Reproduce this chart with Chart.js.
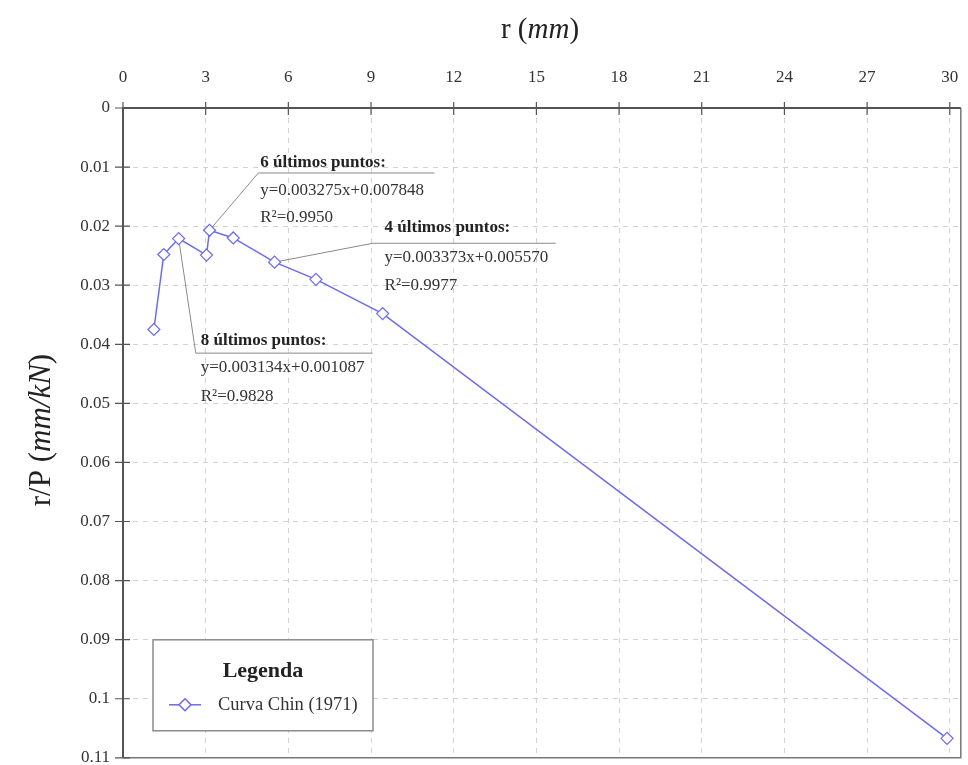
<!DOCTYPE html>
<html>
<head>
<meta charset="utf-8">
<script src="https://cdn.jsdelivr.net/npm/chart.js@4.4.1/dist/chart.umd.min.js"></script>
<style>
  html, body { margin: 0; padding: 0; background: #fff; }
  #wrap { width: 968px; height: 765px; position: relative; }
</style>
</head>
<body>
<div id="wrap"><canvas id="chin"></canvas></div>
<script>
// Curva de Chin: r/P contra r, eje vertical invertido y eje r arriba.

const rValues  = [1.12, 1.48, 2.02, 3.03, 3.14, 4.0, 5.5, 7.0, 9.42, 29.9];
const rpValues = [0.0375, 0.0248, 0.0221, 0.0249, 0.0207, 0.0220, 0.0261, 0.0290, 0.0348, 0.1067];

const xTicks = [0, 3, 6, 9, 12, 15, 18, 21, 24, 27, 30];
const yTicks = [0, 0.01, 0.02, 0.03, 0.04, 0.05, 0.06, 0.07, 0.08, 0.09, 0.1, 0.11];
const yTickLabels = ["0", "0.01", "0.02", "0.03", "0.04", "0.05", "0.06", "0.07", "0.08", "0.09", "0.1", "0.11"];

const seriesLabel = "Curva Chin (1971)";
const legendTitle = "Legenda";

const fitTitles = ["6 últimos puntos:", "4 últimos puntos:", "8 últimos puntos:"];
const fitEquations = ["y=0.003275x+0.007848", "y=0.003373x+0.005570", "y=0.003134x+0.001087"];
const fitR2 = ["R²=0.9950", "R²=0.9977", "R²=0.9828"];

// where each note sits, in data units (r, r/P): point it hangs from, elbow, end of underline
const noteLayout = [
  { from: 4, elbow: [4.91, 0.0110], end: 11.3, textX: 4.98, rows: [0.0092, 0.0139, 0.0186] },
  { from: 6, elbow: [9.06, 0.0229], end: 15.7, textX: 9.49, rows: [0.0203, 0.0253, 0.0300] },
  { from: 2, elbow: [2.64, 0.0415], end: 9.06, textX: 2.82, rows: [0.0393, 0.0440, 0.0488] },
];

const SERIF = "'Liberation Serif', 'DejaVu Serif', serif";
const BLUE = "#6a6af2";
const INK = "#333333";
const AXIS = "#555555";
const GRID = "#d2d2d2";

function mixedWidth(ctx, parts, size) {
  let w = 0;
  parts.forEach(([t, it]) => {
    ctx.font = `${it ? "italic " : ""}${size}px ${SERIF}`;
    w += ctx.measureText(t).width;
  });
  return w;
}

function drawMixed(ctx, parts, size, x, y) {
  let cx = x - mixedWidth(ctx, parts, size) / 2;
  ctx.textAlign = "left";
  parts.forEach(([t, it]) => {
    ctx.font = `${it ? "italic " : ""}${size}px ${SERIF}`;
    ctx.fillText(t, cx, y);
    cx += ctx.measureText(t).width;
  });
}

const decor = {
  id: "decor",
  beforeDatasetsDraw(chart) {
    const { ctx, chartArea: a, scales: { x, y } } = chart;
    ctx.save();

    // frame
    ctx.strokeStyle = "#777";
    ctx.lineWidth = 1.5;
    ctx.beginPath();
    ctx.moveTo(a.right, a.top);
    ctx.lineTo(a.right, a.bottom);
    ctx.lineTo(a.left, a.bottom);
    ctx.stroke();
    ctx.strokeStyle = AXIS;
    ctx.lineWidth = 2;
    ctx.beginPath();
    ctx.moveTo(a.left, a.bottom);
    ctx.lineTo(a.left, a.top);
    ctx.lineTo(a.right, a.top);
    ctx.stroke();

    // cross ticks
    ctx.lineWidth = 1.2;
    ctx.beginPath();
    xTicks.forEach((v) => {
      const px = x.getPixelForValue(v);
      ctx.moveTo(px, a.top - 6);
      ctx.lineTo(px, a.top + 7);
    });
    yTicks.forEach((v) => {
      const py = y.getPixelForValue(v);
      ctx.moveTo(a.left - 8, py);
      ctx.lineTo(a.left + 7, py);
    });
    ctx.stroke();

    // trend-line notes
    noteLayout.forEach((n, i) => {
      const p0x = x.getPixelForValue(rValues[n.from]);
      const p0y = y.getPixelForValue(rpValues[n.from]);
      const ex = x.getPixelForValue(n.elbow[0]);
      const ey = y.getPixelForValue(n.elbow[1]);
      ctx.strokeStyle = "#8a8a8a";
      ctx.lineWidth = 1;
      ctx.beginPath();
      ctx.moveTo(p0x, p0y);
      ctx.lineTo(ex, ey);
      ctx.lineTo(x.getPixelForValue(n.end), ey);
      ctx.stroke();

      const tx = x.getPixelForValue(n.textX);
      ctx.fillStyle = "#222";
      ctx.textAlign = "left";
      ctx.textBaseline = "middle";
      ctx.font = `bold 17px ${SERIF}`;
      ctx.fillText(fitTitles[i], tx, y.getPixelForValue(n.rows[0]));
      ctx.fillStyle = INK;
      ctx.font = `17px ${SERIF}`;
      ctx.fillText(fitEquations[i], tx, y.getPixelForValue(n.rows[1]));
      ctx.fillText(fitR2[i], tx, y.getPixelForValue(n.rows[2]));
    });
    ctx.restore();
  },
  afterDraw(chart) {
    const { ctx, chartArea: a } = chart;
    ctx.save();
    ctx.fillStyle = "#222";
    ctx.textBaseline = "middle";

    // axis titles
    drawMixed(ctx, [["r (", false], ["mm", true], [")", false]], 29, 540, 30);
    ctx.translate(42, 430);
    ctx.rotate(-Math.PI / 2);
    drawMixed(ctx, [["r/P (", false], ["mm/kN", true], [")", false]], 31, 0, 0);
    ctx.setTransform(1, 0, 0, 1, 0, 0);

    // legend box
    const lx = a.left + 30, ly = a.bottom - 118, lw = 220, lh = 91;
    ctx.fillStyle = "#fff";
    ctx.fillRect(lx, ly, lw, lh);
    ctx.strokeStyle = "#8c8c8c";
    ctx.lineWidth = 1.5;
    ctx.strokeRect(lx, ly, lw, lh);
    ctx.fillStyle = "#222";
    ctx.textAlign = "center";
    ctx.font = `bold 22px ${SERIF}`;
    ctx.fillText(legendTitle, lx + 110, ly + 32);

    const ry = ly + 65;
    ctx.strokeStyle = BLUE;
    ctx.lineWidth = 1.5;
    ctx.beginPath();
    ctx.moveTo(lx + 16, ry);
    ctx.lineTo(lx + 48, ry);
    ctx.stroke();
    ctx.fillStyle = "#fff";
    ctx.beginPath();
    ctx.moveTo(lx + 32, ry - 6);
    ctx.lineTo(lx + 38, ry);
    ctx.lineTo(lx + 32, ry + 6);
    ctx.lineTo(lx + 26, ry);
    ctx.closePath();
    ctx.fill();
    ctx.stroke();
    ctx.fillStyle = INK;
    ctx.textAlign = "left";
    ctx.font = `18.5px ${SERIF}`;
    ctx.fillText(seriesLabel, lx + 65, ry);
    ctx.restore();
  },
};

new Chart(document.getElementById("chin"), {
  type: "line",
  data: {
    datasets: [{
      label: seriesLabel,
      data: rValues.map((r, i) => ({ x: r, y: rpValues[i] })),
      borderColor: BLUE,
      borderWidth: 1.5,
      pointStyle: "rectRot",
      pointRadius: 6,
      pointBorderWidth: 1.2,
      pointBorderColor: BLUE,
      pointBackgroundColor: "#fff",
      tension: 0,
      clip: false,
    }],
  },
  options: {
    responsive: true,
    maintainAspectRatio: false,
    animation: false,
    layout: { padding: { left: 0, right: 4, top: 0, bottom: 7 } },
    scales: {
      x: {
        type: "linear",
        position: "top",
        min: 0,
        max: 30.4,
        afterBuildTicks: (s) => { s.ticks = xTicks.map((v) => ({ value: v })); },
        afterFit: (s) => { s.height = 108; s.paddingLeft = 0; s.paddingRight = 0; },
        grid: { color: GRID, lineWidth: 1, drawTicks: false },
        border: { display: false, dash: [5, 5] },
        ticks: { font: { family: SERIF, size: 17 }, color: INK, padding: 20, maxRotation: 0 },
      },
      y: {
        type: "linear",
        reverse: true,
        min: 0,
        max: 0.11,
        afterBuildTicks: (s) => { s.ticks = yTicks.map((v) => ({ value: v })); },
        afterFit: (s) => { s.width = 123; s.paddingTop = 0; s.paddingBottom = 0; },
        grid: { color: GRID, lineWidth: 1, drawTicks: false },
        border: { display: false, dash: [5, 5] },
        ticks: {
          font: { family: SERIF, size: 17 },
          color: INK,
          padding: 13,
          callback: (v) => yTickLabels[yTicks.findIndex((t) => Math.abs(t - v) < 1e-9)] ?? "",
        },
      },
    },
    plugins: {
      legend: { display: false },
      tooltip: { enabled: false },
    },
  },
  plugins: [decor],
});
</script>
</body>
</html>
